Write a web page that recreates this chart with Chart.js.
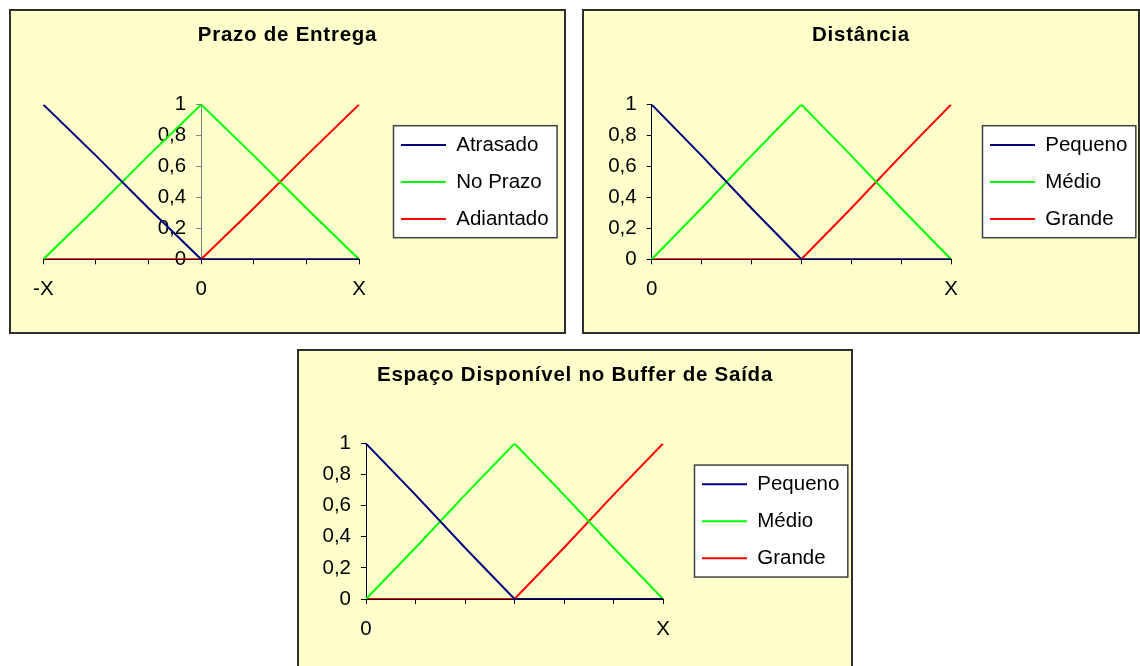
<!DOCTYPE html>
<html>
<head>
<meta charset="utf-8">
<script src="https://cdn.jsdelivr.net/npm/chart.js@4/dist/chart.umd.min.js"></script>
<style>
  html, body { margin: 0; padding: 0; background: #ffffff; width: 1140px; height: 666px; overflow: hidden; }
  canvas { position: absolute; }
  #prazo { left: 9px; top: 9px; }
  #distancia { left: 582px; top: 9px; }
  #buffer { left: 297px; top: 349px; }
</style>
</head>
<body>
<canvas id="prazo" width="557" height="325"></canvas>
<canvas id="distancia" width="558" height="325"></canvas>
<canvas id="buffer" width="556" height="325"></canvas>
<script>
// ---- Prazo de Entrega ----
const prazoTitle = 'Prazo de Entrega';
const prazoLabels = ['-X', '', '', '0', '', '', 'X'];
const prazoNames = ['Atrasado', 'No Prazo', 'Adiantado'];
const prazoAtrasado = [1, 0.67, 0.33, 0, 0, 0, 0];
const prazoNoPrazo = [0, 0.33, 0.67, 1, 0.67, 0.33, 0];
const prazoAdiantado = [0, 0, 0, 0, 0.33, 0.67, 1];

// ---- Distância ----
const distTitle = 'Distância';
const distLabels = ['0', '', '', '', '', '', 'X'];
const distNames = ['Pequeno', 'Médio', 'Grande'];
const distPequeno = [1, 0.67, 0.33, 0, 0, 0, 0];
const distMedio = [0, 0.33, 0.67, 1, 0.67, 0.33, 0];
const distGrande = [0, 0, 0, 0, 0.33, 0.67, 1];

// ---- Espaço Disponível no Buffer de Saída ----
const bufTitle = 'Espaço Disponível no Buffer de Saída';
const bufLabels = ['0', '', '', '', '', '', 'X'];
const bufNames = ['Pequeno', 'Médio', 'Grande'];
const bufPequeno = [1, 0.67, 0.33, 0, 0, 0, 0];
const bufMedio = [0, 0.33, 0.67, 1, 0.67, 0.33, 0];
const bufGrande = [0, 0, 0, 0, 0.33, 0.67, 1];

// shared value-axis tick labels (0 .. 1, step 0,2)
const yTickLabels = ['0', '0,2', '0,4', '0,6', '0,8', '1'];

const lineColors = ['#000080', '#00FF00', '#FF0000'];
const FONT = "'Liberation Sans', Arial, Helvetica, sans-serif";
const Y_AXIS_BOX = 50;

Chart.defaults.font.family = FONT;
Chart.defaults.color = '#000000';

// Panel background, outer frame, boxed legend, and final placement of title/legend/value axis
const panelFrame = {
  id: 'panelFrame',
  afterLayout(chart, args, opts) {
    const lg = chart.legend;
    if (lg) {
      lg.left += opts.legendShift || 0;
      lg.right = chart.width - 2;
      lg.width = lg.right - lg.left;
    }
    const tb = chart.titleBlock;
    if (tb) {
      tb.left = 0;
      tb.right = chart.width;
      tb.width = chart.width;
    }
    // value axis crossing the category axis at a given category
    if (opts.yAxisAt !== undefined) {
      const ys = chart.scales.y;
      const px = chart.scales.x.getPixelForValue(opts.yAxisAt);
      ys.right = px;
      ys.left = px - Y_AXIS_BOX;
      ys.width = Y_AXIS_BOX;
    }
  },
  beforeDraw(chart, args, opts) {
    const { ctx, width, height } = chart;
    ctx.save();
    ctx.fillStyle = opts.background;
    ctx.fillRect(0, 0, width, height);
    ctx.lineWidth = 2;
    ctx.strokeStyle = opts.border;
    ctx.strokeRect(1, 1, width - 2, height - 2);

    const hb = chart.legend && chart.legend.legendHitBoxes;
    if (hb && hb.length) {
      const l = Math.min(...hb.map(b => b.left)) - 7.5;
      const r = Math.max(...hb.map(b => b.left + b.width)) + 8.5;
      const t = hb[0].top - 9;
      const last = hb[hb.length - 1];
      const b = last.top + last.height + 8.5;
      ctx.fillStyle = '#FFFFFF';
      ctx.fillRect(l, t, r - l, b - t);
      ctx.lineWidth = 1.5;
      ctx.strokeStyle = '#404040';
      ctx.strokeRect(l, t, r - l, b - t);
    }
    ctx.restore();

    // wider tracking for the bold title
    const tb = chart.titleBlock;
    if (tb && !tb._tracked) {
      const drawTitle = tb.draw.bind(tb);
      tb.draw = (area) => {
        const c = tb.ctx;
        const prev = c.letterSpacing;
        c.letterSpacing = opts.titleSpacing;
        drawTitle(area);
        c.letterSpacing = prev;
      };
      tb._tracked = true;
    }
  }
};

function buildPanel(canvasId, p) {
  const datasets = p.series.map((values, i) => ({
    label: p.names[i],
    data: values,
    borderColor: lineColors[i],
    backgroundColor: lineColors[i],
    borderWidth: 2,
    pointRadius: 0,
    pointHoverRadius: 0,
    tension: 0,
    fill: false
  }));

  return new Chart(document.getElementById(canvasId), {
    type: 'line',
    data: { labels: p.labels, datasets },
    options: {
      responsive: false,
      animation: false,
      devicePixelRatio: 1,
      events: [],
      layout: { padding: p.padding },
      scales: {
        x: {
          type: 'category',
          offset: false,
          afterFit: (scale) => { scale.height = 42; },
          grid: { drawOnChartArea: false, drawTicks: true, tickLength: 5, tickColor: '#000000', offset: false },
          border: { display: true, color: '#000000', width: 1 },
          ticks: { autoSkip: false, maxRotation: 0, padding: 13, color: '#000000', font: { size: 20.5 } }
        },
        y: {
          position: 'left',
          min: 0,
          max: 1,
          afterFit: (scale) => { scale.width = p.yReserve; },
          grid: { drawOnChartArea: false, drawTicks: true, tickLength: 5, tickColor: p.yAxisColor, lineWidth: 1 },
          border: { display: true, color: p.yAxisColor, width: 1 },
          ticks: {
            stepSize: 0.2,
            padding: 10,
            color: '#000000',
            font: { size: 20.5 },
            callback: (value, index) => yTickLabels[index]
          }
        }
      },
      plugins: {
        title: {
          display: true,
          text: p.title,
          color: '#000000',
          font: { size: 20.5, weight: 'bold' },
          padding: { top: 13.7, bottom: p.titleGap }
        },
        legend: {
          display: true,
          position: 'right',
          align: 'center',
          fullSize: false,
          maxWidth: 140,
          labels: {
            boxWidth: 45,
            boxHeight: 0,
            padding: 16.5,
            color: '#000000',
            font: { size: 20.5 }
          }
        },
        tooltip: { enabled: false },
        panelFrame: {
          background: '#FFFFCC',
          border: '#2e2e2e',
          legendShift: p.legendShift,
          yAxisAt: p.yAxisAt,
          titleSpacing: '0.75px'
        }
      }
    },
    plugins: [panelFrame]
  });
}

buildPanel('prazo', {
  title: prazoTitle,
  labels: prazoLabels,
  names: prazoNames,
  series: [prazoAtrasado, prazoNoPrazo, prazoAdiantado],
  yReserve: 0,
  yAxisAt: 3,
  yAxisColor: '#808080',
  padding: { left: 34.3, right: 67, top: 0, bottom: 32.7 },
  titleGap: 57.3,
  legendShift: 25.5
});

buildPanel('distancia', {
  title: distTitle,
  labels: distLabels,
  names: distNames,
  series: [distPequeno, distMedio, distGrande],
  yReserve: Y_AXIS_BOX,
  yAxisColor: '#000000',
  padding: { left: 69.7 - Y_AXIS_BOX, right: 49, top: 0, bottom: 32.7 },
  titleGap: 57.3,
  legendShift: 22.5
});

buildPanel('buffer', {
  title: bufTitle,
  labels: bufLabels,
  names: bufNames,
  series: [bufPequeno, bufMedio, bufGrande],
  yReserve: Y_AXIS_BOX,
  yAxisColor: '#000000',
  padding: { left: 69 - Y_AXIS_BOX, right: 50, top: 0, bottom: 33 },
  titleGap: 56.3,
  legendShift: 22.5
});
</script>
</body>
</html>
